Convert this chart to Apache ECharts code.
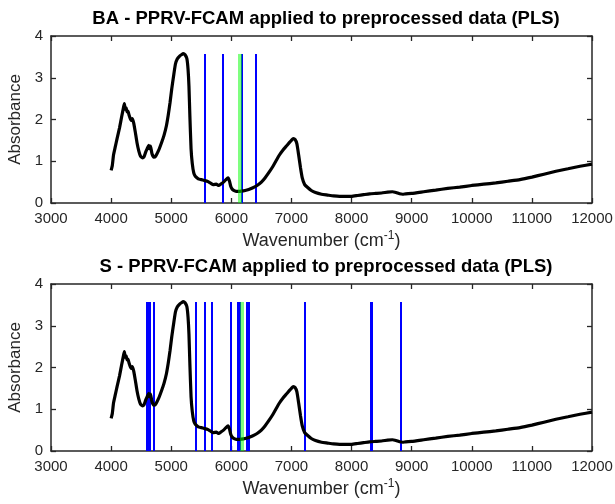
<!DOCTYPE html>
<html>
<head>
<meta charset="utf-8">
<script src="https://cdn.jsdelivr.net/npm/echarts@6/dist/echarts.min.js"></script>
<style>
html, body { margin: 0; padding: 0; background: #fff; }
#main { width: 615px; height: 504px; }
</style>
</head>
<body>
<div id="main"></div>
<script>
// spectrum (same in both panels)
const wavenumber = [4000, 4020, 4040, 4070, 4100, 4140, 4180, 4205, 4220, 4235, 4250, 4265, 4280, 4300, 4330, 4350, 4375, 4400, 4430, 4460, 4490, 4520, 4545, 4575, 4600, 4625, 4640, 4655, 4680, 4710, 4740, 4790, 4840, 4880, 4920, 4950, 4980, 5010, 5040, 5070, 5100, 5140, 5170, 5200, 5230, 5260, 5280, 5295, 5310, 5330, 5350, 5375, 5400, 5450, 5500, 5550, 5600, 5650, 5700, 5750, 5790, 5830, 5870, 5910, 5945, 5970, 5990, 6010, 6040, 6080, 6140, 6200, 6260, 6320, 6380, 6440, 6500, 6560, 6620, 6680, 6740, 6800, 6860, 6920, 6980, 7030, 7060, 7090, 7120, 7150, 7180, 7220, 7270, 7330, 7400, 7500, 7600, 7700, 7800, 7900, 8000, 8100, 8200, 8300, 8400, 8500, 8600, 8680, 8740, 8800, 8850, 8900, 9000, 9200, 9400, 9600, 9800, 10000, 10200, 10400, 10600, 10800, 11000, 11200, 11400, 11600, 11800, 12000];
const absorbance = [0.78, 0.90, 1.15, 1.35, 1.55, 1.80, 2.10, 2.28, 2.38, 2.25, 2.28, 2.18, 2.20, 2.10, 1.98, 2.02, 1.92, 1.72, 1.45, 1.25, 1.12, 1.08, 1.10, 1.22, 1.30, 1.38, 1.30, 1.36, 1.18, 1.10, 1.12, 1.26, 1.45, 1.62, 1.85, 2.10, 2.40, 2.75, 3.05, 3.33, 3.45, 3.52, 3.55, 3.58, 3.55, 3.46, 3.20, 2.80, 2.10, 1.30, 0.95, 0.72, 0.64, 0.58, 0.56, 0.54, 0.52, 0.48, 0.44, 0.45, 0.42, 0.46, 0.50, 0.56, 0.60, 0.52, 0.40, 0.34, 0.30, 0.28, 0.28, 0.29, 0.31, 0.34, 0.38, 0.43, 0.50, 0.60, 0.72, 0.85, 1.00, 1.15, 1.27, 1.37, 1.47, 1.54, 1.52, 1.42, 1.15, 0.85, 0.60, 0.44, 0.37, 0.30, 0.25, 0.21, 0.19, 0.17, 0.16, 0.16, 0.16, 0.18, 0.20, 0.22, 0.23, 0.24, 0.26, 0.27, 0.25, 0.22, 0.21, 0.22, 0.23, 0.27, 0.31, 0.35, 0.38, 0.42, 0.45, 0.48, 0.52, 0.56, 0.62, 0.69, 0.76, 0.82, 0.88, 0.93];

// selected variables
const baSelected = [5561, 5860, 6165, 6403];
const baBest = [6148];
const sSelected = [4592, 4626, 4648, 4703, 5406, 5550, 5672, 5982, 6115, 6148, 6254, 6287, 7217, 8319, 8330, 8817];
const sBest = [6170];
const lineTop = 3.57;

const titles = ['BA - PPRV-FCAM applied to preprocessed data (PLS)', 'S - PPRV-FCAM applied to preprocessed data (PLS)'];

const chart = echarts.init(document.getElementById('main'));
const ink = '#262626';
const font = 'Liberation Sans';
const gridTops = [36, 284];

const spectrum = wavenumber.map((w, i) => [w, absorbance[i]]);
const vlines = (xs) => xs.map(x => [{ coord: [x, 0] }, { coord: [x, lineTop] }]);

const grids = [], xAxes = [], yAxes = [], series = [], titleOpts = [];
[[baSelected, baBest], [sSelected, sBest]].forEach(([sel, best], g) => {
    grids.push({ left: 51, top: gridTops[g], width: 541, height: 167, outerBoundsMode: 'none' });
    titleOpts.push({
        text: titles[g], left: 321, top: gridTops[g] - 32, textAlign: 'center',
        textStyle: { fontFamily: font, fontSize: 18.5, fontWeight: 'bold', color: '#000' }
    });
    const base = {
        gridIndex: g, type: 'value', min: 3000, max: 12000, interval: 1000,
        axisLine: { onZero: false, lineStyle: { color: ink, width: 1.5 } },
        axisTick: { inside: true, length: 5, lineStyle: { color: ink, width: 1.3 } },
        splitLine: { show: false }
    };
    xAxes.push(Object.assign({}, base, {
        position: 'bottom',
        name: 'Wavenumber (cm{sup|-1})', nameLocation: 'middle', nameGap: 27,
        nameTextStyle: {
            fontFamily: font, fontSize: 18, color: ink,
            rich: { sup: { fontFamily: font, fontSize: 12, color: ink, padding: [0, 0, 10, 0] } }
        },
        axisLabel: { fontFamily: font, fontSize: 15, color: ink, margin: 8, formatter: v => String(v) }
    }));
    xAxes.push(Object.assign({}, base, { position: 'top', axisLabel: { show: false } }));
    const ybase = {
        gridIndex: g, type: 'value', min: 0, max: 4, interval: 1,
        axisLine: { show: true, onZero: false, lineStyle: { color: ink, width: 1.5 } },
        axisTick: { show: true, inside: true, length: 5, lineStyle: { color: ink, width: 1.3 } },
        splitLine: { show: false }
    };
    yAxes.push(Object.assign({}, ybase, {
        position: 'left',
        name: 'Absorbance', nameLocation: 'middle', nameGap: 27,
        nameTextStyle: { fontFamily: font, fontSize: 17, color: ink },
        axisLabel: { fontFamily: font, fontSize: 15, color: ink, margin: 8 }
    }));
    yAxes.push(Object.assign({}, ybase, { position: 'right', axisLabel: { show: false } }));

    const xi = g * 2, yi = g * 2;
    series.push({
        type: 'line', xAxisIndex: xi, yAxisIndex: yi, data: [], silent: true,
        markLine: {
            silent: true, symbol: 'none', z: 1, label: { show: false },
            lineStyle: { color: '#0000ff', width: 2, type: 'solid' },
            data: vlines(sel)
        }
    });
    series.push({
        type: 'line', xAxisIndex: xi, yAxisIndex: yi, data: spectrum, z: 3,
        showSymbol: false, smooth: 0.15, silent: true,
        lineStyle: { color: '#000', width: 3.2 }
    });
    series.push({
        type: 'line', xAxisIndex: xi, yAxisIndex: yi, data: [], silent: true,
        markLine: {
            silent: true, symbol: 'none', z: 10, label: { show: false },
            lineStyle: { color: 'rgba(0,255,0,0.5)', width: 4, type: 'solid' },
            data: vlines(best)
        }
    });
});

chart.setOption({
    animation: false,
    title: titleOpts,
    grid: grids,
    xAxis: xAxes,
    yAxis: yAxes,
    series: series
});
</script>
</body>
</html>
